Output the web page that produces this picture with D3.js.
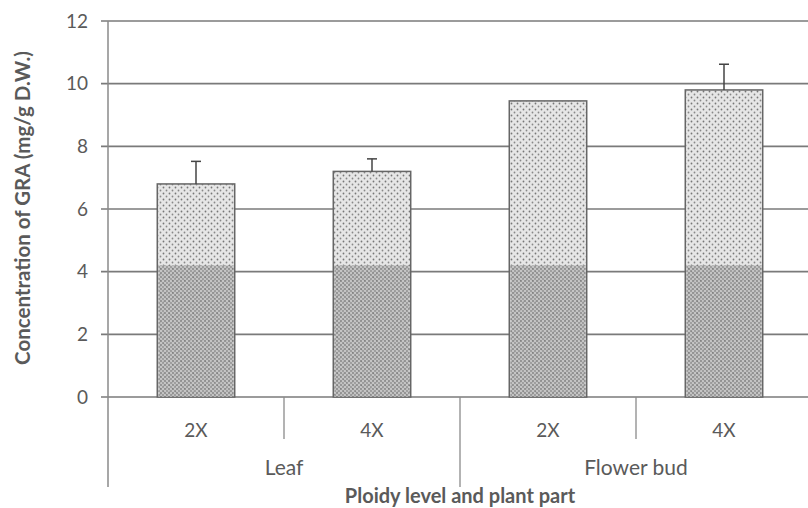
<!DOCTYPE html>
<html><head><meta charset="utf-8">
<script src="https://cdn.jsdelivr.net/npm/d3@7"></script>
<style>body{margin:0;background:#fff}svg{display:block}text{font-family:Lato,"Open Sans",sans-serif;fill:#5a5a5a}</style>
</head><body><svg id="c" width="808" height="508"></svg>
<script>
const levels = ["2X","4X","2X","4X"];
const parts = ["Leaf","Flower bud"];
const values = [6.8, 7.2, 9.45, 9.8];
const errors = [0.72, 0.4, 0, 0.82];
const yTicks = [0,2,4,6,8,10,12];

(function(){
const svg = d3.select("#c");
const pL = 108, pR = 812, pT = 21, pB = 397;
const y = d3.scaleLinear().domain([0,12]).range([pB, pT]);
const x = d3.scaleBand().domain(d3.range(values.length)).range([pL, pR]).paddingInner(0).paddingOuter(0);
const bw = x.bandwidth()*0.44;

const defs = svg.append("defs");
const pat = defs.append("pattern").attr("id","dots").attr("patternUnits","userSpaceOnUse").attr("width",6).attr("height",6);
pat.append("rect").attr("width",6).attr("height",6).attr("fill","#e6e6e6");
pat.append("circle").attr("cx",1.5).attr("cy",1.5).attr("r",0.9).attr("fill","#777");
pat.append("circle").attr("cx",4.5).attr("cy",4.5).attr("r",0.9).attr("fill","#888");
const pat2 = defs.append("pattern").attr("id","dots2").attr("patternUnits","userSpaceOnUse").attr("width",4).attr("height",4);
pat2.append("rect").attr("width",4).attr("height",4).attr("fill","#bdbdbd");
pat2.append("circle").attr("cx",1).attr("cy",1).attr("r",0.9).attr("fill","#666");
pat2.append("circle").attr("cx",3).attr("cy",3).attr("r",0.9).attr("fill","#777");

svg.append("g").selectAll("line").data(yTicks).join("line")
  .attr("x1",pL-7).attr("x2",808).attr("y1",d=>y(d)).attr("y2",d=>y(d))
  .attr("stroke","#7a7a7a").attr("stroke-width",1.6);

svg.append("g").selectAll("text").data(yTicks).join("text")
  .attr("x",88).attr("y",d=>y(d)).attr("dy","0.35em").attr("text-anchor","end")
  .style("font-size","19px").text(d=>d);

svg.append("line").attr("x1",pL).attr("x2",pL).attr("y1",pT).attr("y2",487).attr("stroke","#8a8a8a").attr("stroke-width",1.5);

const bars = svg.append("g");
values.forEach((v,i)=>{
  const cx = x(i)+x.bandwidth()/2;
  bars.append("rect").attr("x",cx-bw/2).attr("y",y(v)).attr("width",bw).attr("height",pB-y(v))
    .attr("fill","url(#dots)").attr("stroke","#666").attr("stroke-width",1.5);
  const lowTop = y(Math.min(v,4.2));
  bars.append("rect").attr("x",cx-bw/2+1).attr("y",lowTop).attr("width",bw-2).attr("height",pB-lowTop)
    .attr("fill","url(#dots2)").attr("opacity",0.8);
  if(errors[i]>0){
    bars.append("line").attr("x1",cx).attr("x2",cx).attr("y1",y(v)).attr("y2",y(v+errors[i])).attr("stroke","#444").attr("stroke-width",1.5);
    bars.append("line").attr("x1",cx-5).attr("x2",cx+5).attr("y1",y(v+errors[i])).attr("y2",y(v+errors[i])).attr("stroke","#444").attr("stroke-width",1.5);
  }
});

const sep = svg.append("g");
d3.range(1, values.length+1).forEach(i=>{
  const xx = i < values.length ? x(i) : pR;
  const long = i % 2 === 0;
  sep.append("line").attr("x1",xx).attr("x2",xx).attr("y1",pB).attr("y2",long?487:439)
    .attr("stroke","#8a8a8a").attr("stroke-width",1.3);
});

svg.append("g").selectAll("text").data(levels).join("text")
  .attr("x",(d,i)=>x(i)+x.bandwidth()/2).attr("y",430).attr("dy","0.35em").attr("text-anchor","middle")
  .style("font-size","19px").text(d=>d);

svg.append("g").selectAll("text").data(parts).join("text")
  .attr("x",(d,i)=>x(i*2)+x.bandwidth()).attr("y",468).attr("dy","0.35em").attr("text-anchor","middle")
  .style("font-size","21px").text(d=>d);

svg.append("text").attr("x",460).attr("y",496).attr("dy","0.35em").attr("text-anchor","middle")
  .style("font-size","20px").style("font-weight","bold").text("Ploidy level and plant part");
svg.append("text").attr("transform","translate(23,208) rotate(-90)").attr("dy","0.35em").attr("text-anchor","middle")
  .style("font-size","20.5px").style("font-weight","bold").text("Concentration of GRA (mg/g D.W.)");
})();
</script></body></html>
